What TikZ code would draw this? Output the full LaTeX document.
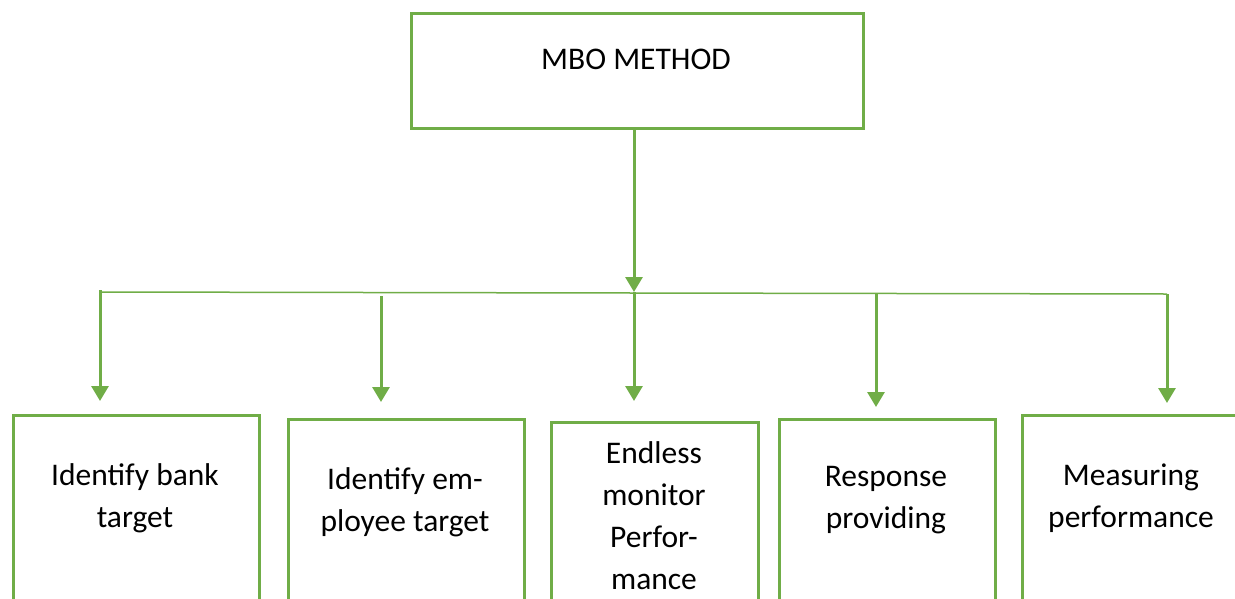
\documentclass[tikz,border=0pt]{standalone}
\usepackage{fontspec}
\setmainfont{Carlito}
\usetikzlibrary{arrows.meta}
\definecolor{ogreen}{HTML}{70AD47}
\begin{document}
\begin{tikzpicture}[x=1pt,y=-1pt,
  box/.style={draw=ogreen, line width=2.6pt, fill=none, anchor=north west, inner sep=0pt},
  lbl/.style={align=center, font=\fontsize{31.5}{42}\selectfont, inner sep=0pt},
  arr/.style={draw=ogreen, line width=3pt, -{Triangle[width=17pt,length=15pt]}},
  bar/.style={draw=ogreen, line width=1.5pt}]
\useasboundingbox (0,0) rectangle (1235,598);
\clip (0,0) rectangle (1235,598);
% top box
\node[box, minimum width=452pt, minimum height=115pt] (top) at (410,12) {};
\node[lbl] (ttop) at (636,59) {MBO METHOD};
% bottom boxes
\node[box, minimum width=246pt, minimum height=300pt] (b1) at (12,414) {};
\node[box, minimum width=236pt, minimum height=300pt] (b2) at (287,418) {};
\node[box, minimum width=207pt, minimum height=300pt] (b3) at (550,421) {};
\node[box, minimum width=216pt, minimum height=300pt] (b4) at (778,418) {};
\node[box, minimum width=300pt, minimum height=300pt] (b5) at (1021,414) {};
\node[lbl] (t1) at (135,498) {Identify bank\\target};
\node[lbl] (t2) at (405,502) {Identify em-\\ployee target};
\node[lbl] (t3) at (654,516) {Endless\\monitor\\Perfor-\\mance};
\node[lbl] (t4) at (886,500) {Response\\providing};
\node[lbl] (t5) at (1131,498) {Measuring\\performance};
% connectors
\coordinate (hub) at (634,292);
\coordinate (hl) at (100,292);
\coordinate (hr) at (1167,294);
\draw[bar] (hl) -- (hr);
\draw[arr] (top.south -| hub) -- (hub);
\draw[arr] (100,290) -- (100,401);
\draw[arr] (381,296) -- (381,402);
\draw[arr] (634,292) -- (634,401);
\draw[arr] (876,294) -- (876,407);
\draw[arr] (1167,294) -- (1167,403);
\end{tikzpicture}
\end{document}
